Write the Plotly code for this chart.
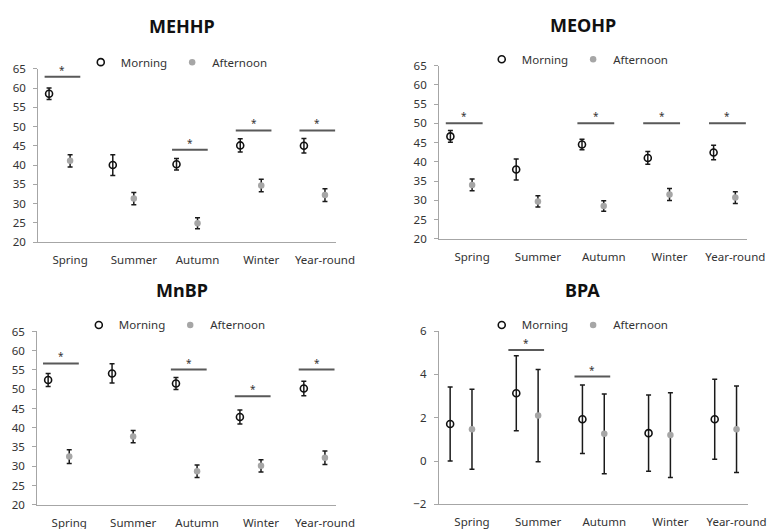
import plotly.graph_objects as go

categories = ["Spring", "Summer", "Autumn", "Winter", "Year-round"]

mehhp_morning = [58.5, 40.0, 40.2, 45.1, 45.0]
mehhp_morning_err = [1.5, 2.7, 1.5, 1.7, 1.9]
mehhp_afternoon = [41.1, 31.3, 24.9, 34.7, 32.2]
mehhp_afternoon_err = [1.6, 1.6, 1.45, 1.6, 1.65]
mehhp_sig = [62.9, None, 44.0, 49.0, 49.0]

meohp_morning = [46.6, 38.0, 44.5, 41.0, 42.4]
meohp_morning_err = [1.5, 2.7, 1.35, 1.65, 1.9]
meohp_afternoon = [34.0, 29.7, 28.5, 31.5, 30.7]
meohp_afternoon_err = [1.55, 1.45, 1.35, 1.55, 1.5]
meohp_sig = [50.0, None, 50.0, 50.0, 50.0]

mnbp_morning = [52.4, 54.1, 51.5, 42.8, 50.2]
mnbp_morning_err = [1.7, 2.5, 1.55, 1.8, 1.9]
mnbp_afternoon = [32.5, 37.7, 28.7, 30.1, 32.2]
mnbp_afternoon_err = [1.8, 1.6, 1.6, 1.6, 1.75]
mnbp_sig = [56.7, None, 55.1, 48.2, 55.1]

bpa_morning = [1.71, 3.13, 1.93, 1.29, 1.93]
bpa_morning_err = [1.71, 1.73, 1.58, 1.76, 1.85]
bpa_afternoon = [1.47, 2.10, 1.26, 1.20, 1.47]
bpa_afternoon_err = [1.85, 2.13, 1.84, 1.96, 2.00]
bpa_sig = [None, 5.13, 3.9, None, None]

W, H = 778, 529
FONT = "Noto Sans"
TXT = "#333333"

panels = [
    dict(title="MEHHP", m=mehhp_morning, me=mehhp_morning_err, a=mehhp_afternoon, ae=mehhp_afternoon_err,
         sig=mehhp_sig, xd=(31, 336), yd=(54.3, 232.7), yr=(20, 65), dt=5, tpos=(178, 10), lpos=(173, 47.5),
         soff=(-0.40, 0.16)),
    dict(title="MEOHP", m=meohp_morning, me=meohp_morning_err, a=meohp_afternoon, ae=meohp_afternoon_err,
         sig=meohp_sig, xd=(442, 757), yd=(51, 229.3), yr=(20, 65), dt=5, tpos=(589, 9.5), lpos=(584, 44.5),
         soff=(-0.40, 0.16)),
    dict(title="MnBP", m=mnbp_morning, me=mnbp_morning_err, a=mnbp_afternoon, ae=mnbp_afternoon_err,
         sig=mnbp_sig, xd=(30, 336), yd=(324.7, 503), yr=(20, 65), dt=5, tpos=(178, 282), lpos=(171, 318),
         soff=(-0.41, 0.15)),
    dict(title="BPA", m=bpa_morning, me=bpa_morning_err, a=bpa_afternoon, ae=bpa_afternoon_err,
         sig=bpa_sig, xd=(441.7, 758.3), yd=(324.3, 502.7), yr=(-2, 6), dt=2, tpos=(589, 282), lpos=(584, 318),
         soff=(-0.45, 0.09)),
]

fig = go.Figure()
annotations = []
idx = list(range(len(categories)))
MOFF = 0.33

for k, p in enumerate(panels, start=1):
    xa = "x" if k == 1 else f"x{k}"
    ya = "y" if k == 1 else f"y{k}"
    lg = "legend" if k == 1 else f"legend{k}"
    # significance lines
    for i, s in enumerate(p["sig"]):
        if s is None:
            continue
        fig.add_trace(go.Scatter(
            x=[i + p["soff"][0], i + p["soff"][1]], y=[s, s], mode="lines",
            line=dict(color="#595959", width=2), showlegend=False, hoverinfo="skip",
            xaxis=xa, yaxis=ya))
        annotations.append(dict(
            x=i + (p["soff"][0] + p["soff"][1]) / 2, y=s, xref=xa, yref=ya, text="*",
            showarrow=False, yanchor="middle", yshift=7, font=dict(family=FONT, size=10, color=TXT)))
    fig.add_trace(go.Scatter(
        x=[i - MOFF for i in idx], y=p["m"], mode="markers", name="Morning",
        marker=dict(symbol="circle-open", size=7, color="#111111", line=dict(width=1.6, color="#111111")),
        error_y=dict(type="data", array=p["me"], visible=True, color="#1a1a1a", thickness=1.5, width=2.5),
        xaxis=xa, yaxis=ya, legend=lg))
    fig.add_trace(go.Scatter(
        x=idx, y=p["a"], mode="markers", name="Afternoon",
        marker=dict(symbol="circle", size=6.5, color="#a6a6a6"),
        error_y=dict(type="data", array=p["ae"], visible=True, color="#1a1a1a", thickness=1.5, width=2.5),
        xaxis=xa, yaxis=ya, legend=lg))

    xkey = "xaxis" if k == 1 else f"xaxis{k}"
    ykey = "yaxis" if k == 1 else f"yaxis{k}"
    fig.update_layout(**{
        xkey: dict(domain=[p["xd"][0] / W, p["xd"][1] / W], range=[-0.5, 4.17], anchor=ya,
                   tickvals=idx, ticktext=categories, showgrid=False, zeroline=False,
                   showline=True, linecolor="#a6a6a6", linewidth=1.3, ticks="",
                   ticklabelstandoff=7,
                   tickfont=dict(family=FONT, size=11.5, color=TXT), fixedrange=True),
        ykey: dict(domain=[1 - p["yd"][1] / H, 1 - p["yd"][0] / H], range=list(p["yr"]), anchor=xa,
                   dtick=p["dt"], tick0=p["yr"][0], showgrid=False, zeroline=False,
                   showline=True, linecolor="#a6a6a6", linewidth=1.3, ticks="outside", ticklen=4,
                   tickcolor="#a6a6a6", tickwidth=1, ticklabelstandoff=5,
                   tickfont=dict(family=FONT, size=11.5, color=TXT), fixedrange=True),
        lg: dict(orientation="h", x=p["lpos"][0] / W, y=1 - p["lpos"][1] / H, xanchor="center",
                 yanchor="middle", bgcolor="rgba(0,0,0,0)", itemwidth=30, tracegroupgap=0,
                 font=dict(family=FONT, size=11.5, color=TXT)),
    })
    annotations.append(dict(
        x=p["tpos"][0] / W, y=1 - p["tpos"][1] / H, xref="paper", yref="paper", text=f"<b>{p['title']}</b>",
        showarrow=False, xanchor="center", yanchor="middle", font=dict(family=FONT, size=18, color="#111111")))

fig.update_layout(
    width=W, height=H, margin=dict(l=0, r=0, t=0, b=0),
    paper_bgcolor="white", plot_bgcolor="white",
    annotations=annotations, font=dict(family=FONT, color=TXT),
)

fig.write_html("out.html")
